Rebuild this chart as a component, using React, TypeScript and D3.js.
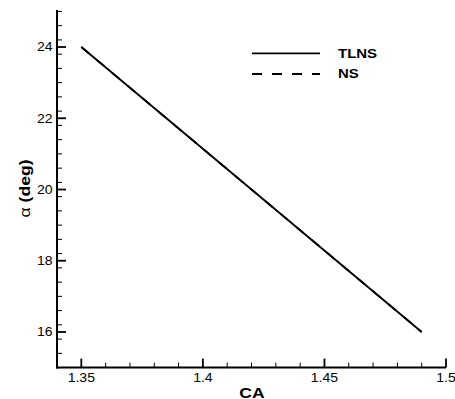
import React from "react";
import * as d3 from "d3";

const alphaTLNS = [24, 22, 20, 18, 16];
const caTLNS = [1.35, 1.385, 1.42, 1.455, 1.49];
const alphaNS = [24, 22, 20, 18, 16];
const caNS = [1.35, 1.385, 1.42, 1.455, 1.49];
const xTickLabels = ["1.35", "1.4", "1.45", "1.5"];
const yTickLabels = ["16", "18", "20", "22", "24"];
const legendLabels = ["TLNS", "NS"];

const W = 455;
const H = 399;
const FONT = "'Liberation Sans', Arial, Helvetica, sans-serif";
const SX = 1.17;

export default function App() {
  const x = d3.scaleLinear().domain([1.34, 1.5]).range([57, 446]);
  const y = d3.scaleLinear().domain([15, 25]).range([367.6, 11.4]);
  const xMajor = xTickLabels.map(Number);
  const yMajor = yTickLabels.map(Number);
  const xMinor = d3.range(0, 17).map((i) => +(1.34 + i * 0.01).toFixed(3)).filter((v) => !xMajor.some((m) => Math.abs(m - v) < 1e-6));
  const yMinor = d3.range(0, 26).map((i) => +(15 + i * 0.4).toFixed(3)).filter((v) => v <= 25 && !yMajor.some((m) => Math.abs(m - v) < 1e-6));

  const line = d3.line<[number, number]>().x((d) => x(d[0])).y((d) => y(d[1]));
  const tlns = line(caTLNS.map((c, i) => [c, alphaTLNS[i]])) || "";
  const ns = line(caNS.map((c, i) => [c, alphaNS[i]])) || "";

  const x0 = x(1.34);
  const yb = y(15);

  return (
    <div style={{ position: "absolute", left: 0, top: 0 }}>
      <svg width={W} height={H} style={{ display: "block", background: "#fff" }} fontFamily={FONT}>
        <path d={ns} fill="none" stroke="#000" strokeWidth={1.8} strokeDasharray="10,10" />
        <path d={tlns} fill="none" stroke="#000" strokeWidth={1.8} />
        {/* x ticks */}
        {xMinor.map((v) => (
          <line key={"xm" + v} x1={x(v)} x2={x(v)} y1={yb} y2={yb - 5} stroke="#000" strokeWidth={1} />
        ))}
        {xMajor.map((v, i) => (
          <g key={"xM" + v}>
            <line x1={x(v)} x2={x(v)} y1={yb} y2={yb - 9} stroke="#000" strokeWidth={1.8} />
            <text transform={`translate(${x(v)},382) scale(${SX},1)`} textAnchor="middle" fontSize={12} fill="#000">{xTickLabels[i]}</text>
          </g>
        ))}
        {/* y ticks */}
        {yMinor.map((v) => (
          <line key={"ym" + v} x1={x0} x2={x0 + 5} y1={y(v)} y2={y(v)} stroke="#000" strokeWidth={1} />
        ))}
        {yMajor.map((v, i) => (
          <g key={"yM" + v}>
            <line x1={x0} x2={x0 + 9} y1={y(v)} y2={y(v)} stroke="#000" strokeWidth={1.8} />
            <text transform={`translate(52.5,${y(v) + 4.3}) scale(${SX},1)`} textAnchor="end" fontSize={12} fill="#000">{yTickLabels[i]}</text>
          </g>
        ))}
        {/* axes */}
        <line x1={x0} x2={x0} y1={10} y2={yb + 1} stroke="#000" strokeWidth={2} />
        <line x1={x0 - 1} x2={446} y1={yb} y2={yb} stroke="#000" strokeWidth={2} />
        {/* titles */}
        <text transform={`translate(252,397.5) scale(${SX},1)`} textAnchor="middle" fontSize={15} fontWeight="bold" fill="#000">CA</text>
        <text transform={`translate(29.5,188.5) rotate(-90)`} textAnchor="middle" fontSize={14} fontWeight="bold" fill="#000" textLength={58} lengthAdjust="spacingAndGlyphs">
          <tspan fontWeight="normal">α</tspan> (deg)
        </text>
        {/* legend */}
        <line x1={252} x2={320} y1={53.3} y2={53.3} stroke="#000" strokeWidth={1.8} />
        <text transform={`translate(338,57.5) scale(${SX},1)`} fontSize={12.8} fontWeight="bold" fill="#000">{legendLabels[0]}</text>
        <line x1={252} x2={320} y1={74} y2={74} stroke="#000" strokeWidth={1.8} strokeDasharray="10,10" />
        <text transform={`translate(338,78) scale(${SX},1)`} fontSize={12.8} fontWeight="bold" fill="#000">{legendLabels[1]}</text>
      </svg>
    </div>
  );
}
